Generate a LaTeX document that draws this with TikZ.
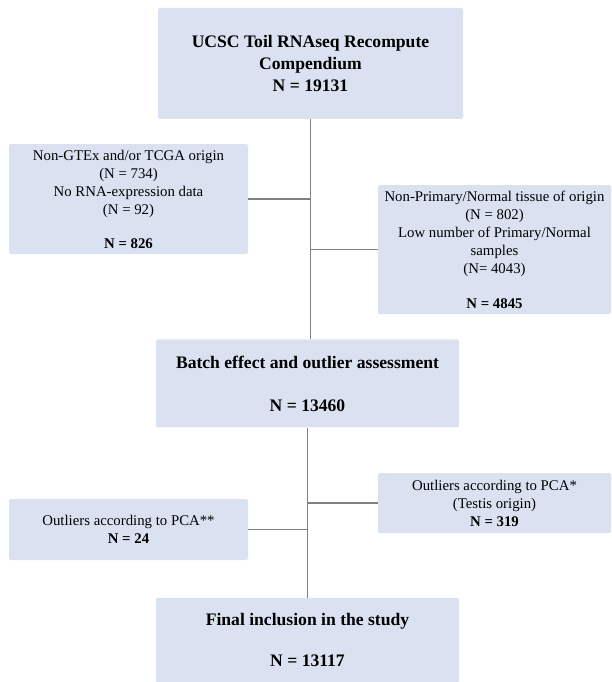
\documentclass[tikz,border=0pt]{standalone}
\usepackage{fontspec}
\setmainfont{Liberation Serif}
\usetikzlibrary{positioning}
\definecolor{boxfill}{RGB}{218,226,241}
\definecolor{linkgray}{RGB}{128,128,128}
\tikzstyle{link} = [draw=linkgray, line width=1.2pt]
\tikzstyle{mainbox} = [rectangle, rounded corners=2pt, fill=boxfill, inner sep=0pt, minimum width=303pt, align=center, font=\fontsize{17.6}{22}\selectfont\bfseries]
\tikzstyle{sidebox} = [rectangle, rounded corners=2pt, fill=boxfill, inner sep=0pt, align=center, font=\fontsize{14.8}{18}\selectfont]

\begin{document}
\begin{tikzpicture}[x=1pt,y=1pt]
\useasboundingbox (0,0) rectangle (611,-682);

% Compendium:
\node(compendium)[mainbox, minimum width=305pt, minimum height=111pt] at (310.5,-63.5)
{UCSC Toil RNAseq Recompute\\Compendium\\N = 19131};

% First exclusions:
\node(nongtex)[sidebox, minimum width=239pt, minimum height=110pt] at (128.5,-199)
{Non-GTEx and/or TCGA origin\\(N = 734)\\No RNA-expression data\\(N = 92)\\[16pt]
\textbf{N = 826}};

\node(lowprim)[sidebox, minimum width=233pt, minimum height=129pt] at (494.5,-249.5)
{Non-Primary/Normal tissue of origin\\(N = 802)\\Low number of Primary/Normal\\samples\\(N= 4043)\\[17pt]
\textbf{N = 4845}};

% Batch effect:
\node(batch)[mainbox, minimum height=88pt, below=220pt of compendium, xshift=-3pt]
{Batch effect and outlier assessment\\[21pt]N = 13460};

% Outliers:
\node(testis)[sidebox, minimum width=233pt, minimum height=60pt] at (494.5,-503)
{Outliers according to PCA*\\(Testis origin)\\\textbf{N = 319}};

\node(pcatwo)[sidebox, minimum width=239pt, minimum height=61pt] at (128.5,-529.5)
{Outliers according to PCA**\\\textbf{N = 24}};

% Final inclusion:
\node(final)[mainbox, minimum height=85pt, below=170pt of batch]
{Final inclusion in the study\\[19pt]N = 13117};

% Links:
\draw[link] (compendium.south) -- (compendium.south |- batch.north);
\draw[link] (nongtex.east) -- (nongtex.east -| compendium.south);
\draw[link] (lowprim.west) -- (lowprim.west -| compendium.south);
\draw[link] (batch.south) -- (final.north);
\draw[link] (testis.west) -- (testis.west -| batch.south);
\draw[link] (pcatwo.east) -- (pcatwo.east -| batch.south);

\end{tikzpicture}
\end{document}
